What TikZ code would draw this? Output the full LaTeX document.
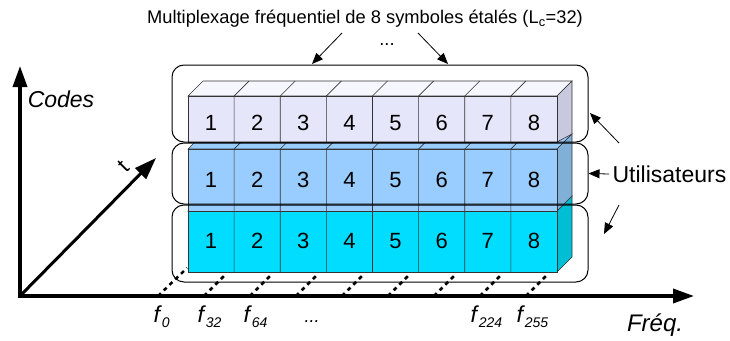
\documentclass[tikz,border=0pt]{standalone}
\usepackage{fontspec}
\setmainfont{Liberation Sans}
\usetikzlibrary{arrows.meta}

\definecolor{lavfront}{RGB}{230,230,250}
\definecolor{lavtop}{RGB}{246,246,255}
\definecolor{lavside}{RGB}{200,200,222}
\definecolor{bluefront}{RGB}{153,204,255}
\definecolor{blueside}{RGB}{128,176,216}
\definecolor{cyanfront}{RGB}{0,221,255}
\definecolor{cyanside}{RGB}{0,190,212}

% italic f with a lowered index
\newcommand{\fsub}[1]{\textit{f}\raisebox{-5pt}{\fontsize{14}{14}\selectfont\itshape #1}}

\begin{document}
\begin{tikzpicture}[x=1pt, y=-1pt,
    face/.style={draw=black!80, line width=0.6pt},
    cellnum/.style={font=\fontsize{22}{22}\selectfont},
    usergroup/.style={draw, line width=1pt, rounded corners=12pt, inner sep=0pt, minimum width=416pt},
    pointer/.style={line width=0.8pt, -{Triangle[length=11pt,width=9pt]}},
    tickdash/.style={line width=2.5pt, dash pattern=on 4pt off 4pt},
    bigtext/.style={font=\fontsize{23}{23}\selectfont},
    freqlabel/.style={anchor=base west, font=\fontsize{23}{23}\selectfont}]
    \useasboundingbox (0,0) rectangle (730,340);

    % axes
    \coordinate (orig) at (20,296);
    \coordinate (codesend) at (20,66);
    \coordinate (freqend) at (694,296);
    \coordinate (tend) at (156,158);

    \draw[tickdash] (158,296) coordinate (tick0) -- (187,268);
    \foreach \k in {1,...,8}
        \draw[tickdash] (158+46*\k,296) coordinate (tick\k) -- ++(20,-20);

    \draw[line width=3.5pt, {Triangle[length=21pt,width=14pt]}-{Triangle[length=21pt,width=14pt]}] (codesend) -- (orig) -- (freqend);
    \draw[line width=3pt, -{Triangle[length=22pt,width=15pt]}] (orig) -- (tend);

    \node[font=\fontsize{23}{23}\selectfont\itshape] (codes) at (61,99) {Codes};
    \node[font=\fontsize{24}{24}\selectfont\itshape] (freq) at (655,325) {Fréq.};
    \node[rotate=45, font=\fontsize{22}{22}\selectfont] (tlabel) at (124,166) {t};

    % the three rows of 8 symbols, back to front
    \foreach \r/\yt/\yb/\sb/\ym/\topc/\front/\side in
        {bot/211/272/257/241/cyanfront/cyanfront/cyanside,
         mid/149/211/196/180/bluefront/bluefront/blueside,
         top/96/142/134/123/lavtop/lavfront/lavside} {
        \filldraw[face, fill=\topc] (188,\yt) -- (203,\yt-15) -- (572,\yt-15) -- (557,\yt) -- cycle;
        \filldraw[face, fill=\side] (557,\yt) -- (572,\yt-15) -- (572,\sb) -- (557,\yb) -- cycle;
        \filldraw[face, fill=\front] (188,\yt) rectangle (557,\yb);
        \foreach \k in {1,...,7}
            \draw[face] (188+46.125*\k,\yb) -- (188+46.125*\k,\yt) -- ++(15,-15);
        \foreach \k in {1,...,8}
            \node[cellnum] (n\r\k) at (164.94+46.125*\k,\ym) {\k};
    }

    % users
    \node[usergroup, minimum height=77pt] (usr1) at (380,103.5) {};
    \node[usergroup, minimum height=61pt] (usr2) at (380,173.5) {};
    \node[usergroup, minimum height=77pt] (usr3) at (380,243.5) {};

    \node[bigtext] (users) at (669.5,174) {Utilisateurs};
    \coordinate (upfrom) at (619,143);
    \coordinate (upto) at (590,113);
    \coordinate (downfrom) at (619,205);
    \coordinate (downto) at (604,234);
    \draw[pointer] (upfrom) -- (upto);
    \draw[pointer] (users.west) -- (usr2.east);
    \draw[pointer] (downfrom) -- (downto);

    % title
    \node[font=\fontsize{18.3}{20}\selectfont] (title) at (365,19) {Multiplexage fréquentiel de 8 symboles étalés (L\textsubscript{c}=32)};
    \node[font=\fontsize{18.3}{20}\selectfont] (dots) at (387,45) {...};
    \coordinate (lfrom) at (342,33);
    \coordinate (lto) at (312,64);
    \coordinate (rfrom) at (418,33);
    \coordinate (rto) at (448,64);
    \draw[pointer] (lfrom) -- (lto);
    \draw[pointer] (rfrom) -- (rto);

    % frequencies
    \node[freqlabel] (f0) at (150,322) {\fsub{0}};
    \node[freqlabel] (f32) at (194,322) {\fsub{32}};
    \node[freqlabel] (f64) at (240,322) {\fsub{64}};
    \node[freqlabel, font=\fontsize{18}{18}\selectfont] (fdots) at (301,322) {\textit{...}};
    \node[freqlabel] (f224) at (467,322) {\fsub{224}};
    \node[freqlabel] (f255) at (513,322) {\fsub{255}};
\end{tikzpicture}
\end{document}
